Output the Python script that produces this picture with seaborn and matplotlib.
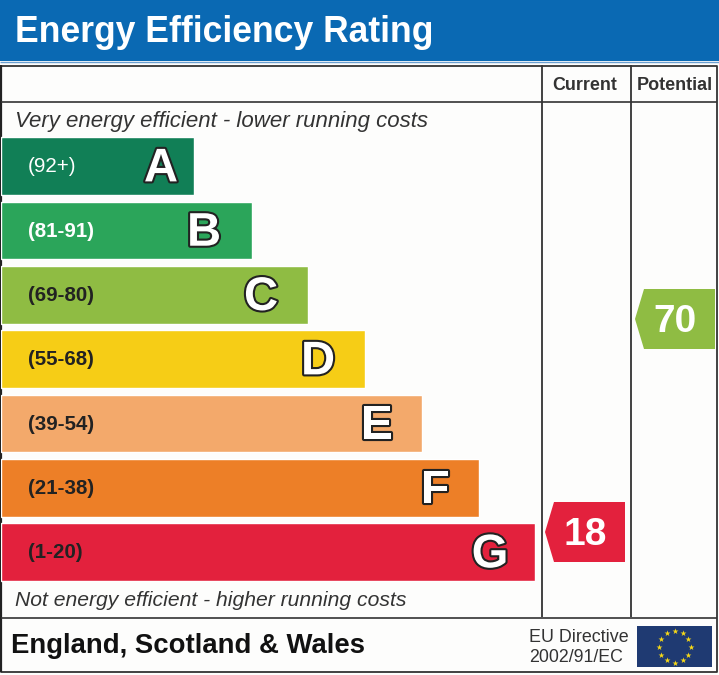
import numpy as np
import pandas as pd
import matplotlib.pyplot as plt
import matplotlib.patheffects as pe
from matplotlib.patches import Polygon, Rectangle
import seaborn as sns

grades = ['A', 'B', 'C', 'D', 'E', 'F', 'G']
ranges = ['(92+)', '(81-91)', '(69-80)', '(55-68)', '(39-54)', '(21-38)', '(1-20)']
bar_lengths = [193, 251, 307, 364, 421, 478, 534]
bar_colors = ['#117f56', '#2ba55a', '#8fbc43', '#f6cd16', '#f3a96b', '#ed7f27', '#e3213d']
range_colors = ['white', 'white', '#222222', '#222222', '#222222', '#222222', '#222222']
current_rating = '18'
potential_rating = '70'

W, H = 719, 675
FONT = 'Liberation Sans'
DARK = '#333333'

sns.set_theme(style='white')
plt.rcParams['font.family'] = FONT
plt.rcParams['lines.solid_capstyle'] = 'butt'

fig = plt.figure(figsize=(W / 100, H / 100), dpi=100, facecolor='#fdfdfc')

# overlay in pixel coords for the frame and labels
ax = fig.add_axes([0, 0, 1, 1])
ax.set_xlim(0, W)
ax.set_ylim(H, 0)
ax.axis('off')

# bars get their own axes, one band every 64.33 px
bars_top, bars_bottom = 134.0, 584.3
ax_bars = fig.add_axes([1 / W, 1 - bars_bottom / H, 718 / W, (bars_bottom - bars_top) / H])
df = pd.DataFrame({'grade': grades, 'length': bar_lengths})
sns.barplot(data=df, y='grade', x='length', hue='grade', palette=bar_colors, saturation=1,
            width=0.9, legend=False, ax=ax_bars)
ax_bars.set_xlim(0, 718)
ax_bars.axis('off')
ax_bars.patch.set_alpha(0)

# letter centre measured back from the bar end
letter_offsets = [33, 48, 47, 47, 45, 44, 45]
for i, (g, r, n) in enumerate(zip(grades, ranges, bar_lengths)):
    ax_bars.text(27, i + 0.01, r, color=range_colors[i], fontsize=14.8, fontweight='bold' if i else 'normal',
                 va='center', ha='left')
    ax_bars.text(n - letter_offsets[i], i + 0.05, g, color='white', fontsize=34, fontweight='bold',
                 va='center', ha='center', path_effects=[pe.withStroke(linewidth=3, foreground='#222222')])

# title band
ax.add_patch(Rectangle((0, 0), W, 61, color='#0a69b3', lw=0))
ax.plot([0, W], [61.5, 61.5], color='#6a9fd0', lw=1)
ax.text(15, 32, 'Energy Efficiency Rating', color='white', fontsize=25.6, fontweight='bold', va='center', ha='left')

# table frame
ax.plot([1, 717, 717, 1, 1], [65.5, 65.5, 672, 672, 65.5], color='#333333', lw=1.3)
ax.plot([1, 1], [65, 672], color='#222222', lw=1.6)
ax.plot([1, 717], [101.5, 101.5], color=DARK, lw=1.2)
ax.plot([1, 717], [617.5, 617.5], color=DARK, lw=1.2)
ax.plot([542, 542], [65, 617], color=DARK, lw=1.3)
ax.plot([630.5, 630.5], [65, 617], color=DARK, lw=1.3)

ax.text(585, 85, 'Current', color=DARK, fontsize=12.9, fontweight='bold', ha='center', va='center')
ax.text(674.5, 85, 'Potential', color=DARK, fontsize=13, fontweight='bold', ha='center', va='center')
ax.text(15, 121, 'Very energy efficient - lower running costs', color=DARK, fontsize=16, fontstyle='italic',
        ha='left', va='center')
ax.text(15, 601, 'Not energy efficient - higher running costs', color=DARK, fontsize=15.2, fontstyle='italic',
        ha='left', va='center')


def rating_arrow(x0, x1, top, bottom, color, label):
    mid = (top + bottom) / 2
    ax.add_patch(Polygon([(x0, mid), (x0 + 9, top), (x1, top), (x1, bottom), (x0 + 9, bottom)], color=color, lw=0))
    ax.text((x0 + x1) / 2, mid + 3, label, color='white', fontsize=28, fontweight='bold', ha='center', va='center')


rating_arrow(545, 625, 502, 562, bar_colors[6], current_rating)
rating_arrow(635, 715, 289, 349, bar_colors[2], potential_rating)

# footer
ax.text(11, 646, 'England, Scotland & Wales', color='#111111', fontsize=19.8, fontweight='bold', ha='left',
        va='center')
ax.text(529, 637, 'EU Directive', color=DARK, fontsize=12.9, ha='left', va='center')
ax.text(529, 658, '2002/91/EC', color=DARK, fontsize=12.8, ha='left', va='center')

ax.add_patch(Rectangle((637, 626), 75, 41, color='#1f3a72', lw=0))
angles = np.arange(12) * np.pi / 6
ax.scatter(674.5 + 16 * np.sin(angles), 646.5 - 16 * np.cos(angles), marker='*', s=20, color='#f7d917', lw=0,
           zorder=3)

fig.savefig('out.png', dpi=100, facecolor=fig.get_facecolor())
